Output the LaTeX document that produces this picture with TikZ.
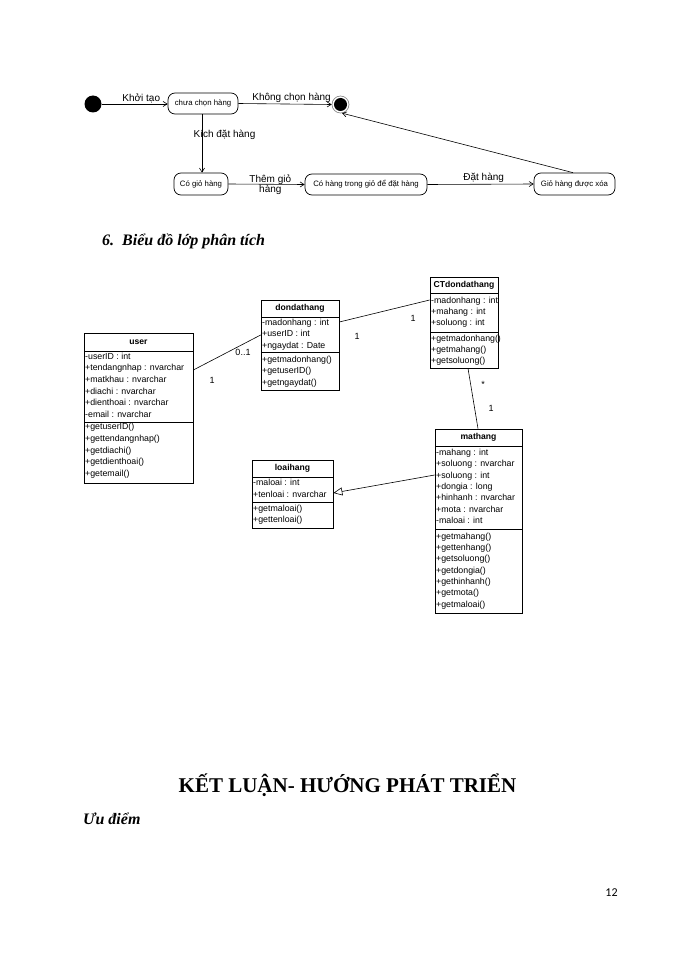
\documentclass[tikz,border=0pt]{standalone}
\usepackage{fontspec}
\setmainfont{Liberation Serif}
\setsansfont{Liberation Sans}
\newfontfamily\numfont{Carlito}
\usetikzlibrary{arrows.meta,fit}
\newcommand\umlbox[7]{%
  \node[fit={(#2,#4)(#3,#7)}, inner sep=0pt, draw, line width=0.7pt] (#1) {};
  \draw[line width=0.7pt] (#2,#5) -- (#3,#5) (#2,#6) -- (#3,#6);
}
\begin{document}
\begin{tikzpicture}[x=1pt,y=-1pt,
  state/.style={draw, rounded corners=7pt, line width=0.7pt, font=\sffamily\fontsize{7.8}{9}\selectfont, inner sep=0pt},
  trans/.style={draw, line width=0.6pt, -{Straight Barb[length=4pt,width=5pt]}},
  tlabel/.style={font=\sffamily\fontsize{10}{10}\selectfont, inner sep=1pt},
  ctitle/.style={font=\sffamily\bfseries\fontsize{8.6}{10}\selectfont, inner sep=0pt},
  crow/.style={anchor=west, font=\sffamily\fontsize{8.8}{10}\selectfont, inner sep=0pt, text height=6.4pt, text depth=1.8pt},
  assoc/.style={line width=0.6pt},
  mult/.style={font=\sffamily\fontsize{9}{10}\selectfont, inner sep=0pt},
  heading/.style={anchor=base west, font=\bfseries\itshape\fontsize{16}{16}\selectfont, inner sep=0pt},
]
\useasboundingbox[fill=white] (0,0) rectangle (700,960);

% ---------- state diagram ----------
\node[state, minimum width=70pt, minimum height=21pt] (s1) at (203,103.5) {chưa chọn hàng};
\node[state, minimum width=54pt, minimum height=22pt] (s2) at (201,184) {Có giỏ hàng};
\node[state, minimum width=122pt, minimum height=21pt] (s3) at (366,184.5) {Có hàng trong giỏ để đặt hàng};
\node[state, minimum width=81pt, minimum height=22pt] (s4) at (574.5,184) {Giỏ hàng được xóa};
\node[circle, fill=black, minimum size=17pt, inner sep=0pt] (init) at (93,104) {};
\node[circle, draw=gray, line width=0.6pt, minimum size=17pt, inner sep=0pt] (final) at (340.5,104.5) {};
\node[circle, fill=black, minimum size=13pt, inner sep=0pt] (finaldot) at (final.center) {};

\draw[trans] (init.east) -- node[tlabel, pos=0.6, above] {Khởi tạo} (init.east -| s1.west);
\draw[trans] (s1.east) -- node[tlabel, pos=0.57, above] {Không chọn hàng} (final.west);
\draw[trans] ([xshift=-1pt]s1.south) -- node[tlabel, pos=0.36, xshift=22.5pt] {Kích đặt hàng} ([xshift=-1pt]s1.south |- s2.north);
\draw[trans] (s2.east) -- node[tlabel, pos=0.55, align=center, inner sep=0pt] {Thêm giỏ\\hàng} (s3.west);
\draw[trans] (s3.east) -- node[tlabel, pos=0.53, above] {Đặt hàng} (s4.west);
\draw[trans] ([xshift=-1.5pt]s4.north) -- (final.-80);

% ---------- heading ----------
\node[heading] (h6n) at (102,245) {6.};
\node[heading] (h6) at (122,245) {Biểu đồ lớp phân tích};

% ---------- class diagram ----------
\umlbox{user}{84}{193}{333}{351}{422}{483}
\node[ctitle] (user-t) at (138.5,342) {user};
\foreach \t [count=\i from 0] in {-userID : int,+tendangnhap : nvarchar,+matkhau : nvarchar,+diachi : nvarchar,+dienthoai : nvarchar,-email : nvarchar}
  \node[crow] at (85,{356.7+11.67*\i}) {\t};
\foreach \t [count=\i from 0] in {+getuserID(),+gettendangnhap(),+getdiachi(),+getdienthoai(),+getemail()}
  \node[crow] at (85,{427.5+11.6*\i}) {\t};

\umlbox{dondathang}{261}{339}{300}{317}{352}{390}
\node[ctitle] (dondathang-t) at (300,308.5) {dondathang};
\foreach \t [count=\i from 0] in {-madonhang : int,+userID : int,+ngaydat : Date}
  \node[crow] at (262,{323+11.5*\i}) {\t};
\foreach \t [count=\i from 0] in {+getmadonhang(),+getuserID(),+getngaydat()}
  \node[crow] at (262,{360+11.5*\i}) {\t};

\umlbox{CT}{430}{498}{277}{293}{332}{368}
\node[ctitle] (CT-t) at (464,285) {CTdondathang};
\foreach \t [count=\i from 0] in {-madonhang : int,+mahang : int,+soluong : int}
  \node[crow] at (431,{301+11.2*\i}) {\t};
\foreach \t [count=\i from 0] in {+getmadonhang(),+getmahang(),+getsoluong()}
  \node[crow] at (431,{339+11*\i}) {\t};

\umlbox{mathang}{435}{522}{429}{446}{529}{613}
\node[ctitle] (mathang-t) at (478.5,437.5) {mathang};
\foreach \t [count=\i from 0] in {-mahang : int,+soluong : nvarchar,+soluong : int,+dongia : long,+hinhanh : nvarchar,+mota : nvarchar,-maloai : int}
  \node[crow] at (436,{453+11.4*\i}) {\t};
\foreach \t [count=\i from 0] in {+getmahang(),+gettenhang(),+getsoluong(),+getdongia(),+gethinhanh(),+getmota(),+getmaloai()}
  \node[crow] at (436,{537+11.33*\i}) {\t};

\umlbox{loaihang}{252}{333}{460}{477}{502}{528}
\node[ctitle] (loaihang-t) at (292.5,468.5) {loaihang};
\foreach \t [count=\i from 0] in {-maloai : int,+tenloai : nvarchar}
  \node[crow] at (253,{483+12*\i}) {\t};
\foreach \t [count=\i from 0] in {+getmaloai(),+gettenloai()}
  \node[crow] at (253,{509+11*\i}) {\t};

\draw[assoc] ([yshift=38pt]user.east) -- ([yshift=10pt]dondathang.west);
\draw[assoc] ([yshift=23pt]dondathang.east) -- ([yshift=22.5pt]CT.west);
\draw[assoc] ([xshift=4pt]CT.south) -- ([xshift=-0.5pt]mathang.north);
\draw[assoc, -{Triangle[open,length=9pt,width=8pt]}] ([yshift=46pt]mathang.west) -- ([yshift=1pt]loaihang.east);

\node[mult] (m1) at (212,380) {1};
\node[mult] (m2) at (243,352) {0..1};
\node[mult] (m3) at (357,336) {1};
\node[mult] (m4) at (413,318) {1};
\node[mult] (m5) at (483,384) {*};
\node[mult] (m6) at (491,408) {1};

% ---------- bottom texts ----------
\node[anchor=base, font=\bfseries\fontsize{21}{21}\selectfont, inner sep=0pt] (concl) at (347.5,792) {KẾT LUẬN- HƯỚNG PHÁT TRIỂN};
\node[heading] (uu) at (83,824) {Ưu điểm};
\node[font=\numfont\fontsize{12}{12}\selectfont, inner sep=0pt] (pg) at (611.5,893) {12};
\end{tikzpicture}
\end{document}
